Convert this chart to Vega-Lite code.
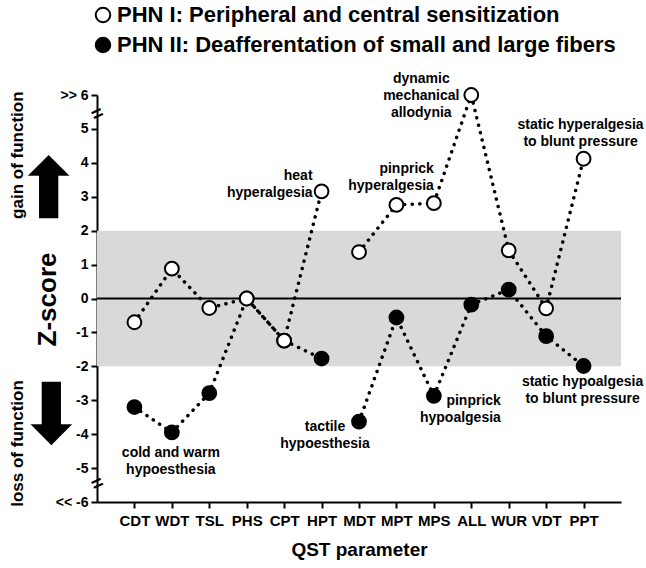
{
  "$schema": "https://vega.github.io/schema/vega-lite/v6.json",
  "width": 524,
  "height": 407,
  "autosize": {"type": "none"},
  "padding": {"left": 97, "top": 95, "right": 25, "bottom": 66},
  "config": {
    "view": {"stroke": null},
    "font": "Liberation Sans",
    "axis": {"grid": false, "labelColor": "black", "titleColor": "black", "labelFont": "Liberation Sans", "titleFont": "Liberation Sans"}
  },
  "datasets": {
    "qst": [
      {"group": "PHN II: Deafferentation of small and large fibers", "seg": "II-a", "param": "CDT", "z": -3.2},
      {"group": "PHN II: Deafferentation of small and large fibers", "seg": "II-a", "param": "WDT", "z": -3.95},
      {"group": "PHN II: Deafferentation of small and large fibers", "seg": "II-a", "param": "TSL", "z": -2.79},
      {"group": "PHN II: Deafferentation of small and large fibers", "seg": "II-a", "param": "PHS", "z": 0.0},
      {"group": "PHN II: Deafferentation of small and large fibers", "seg": "II-a", "param": "CPT", "z": -1.24},
      {"group": "PHN II: Deafferentation of small and large fibers", "seg": "II-a", "param": "HPT", "z": -1.77},
      {"group": "PHN II: Deafferentation of small and large fibers", "seg": "II-b", "param": "MDT", "z": -3.63},
      {"group": "PHN II: Deafferentation of small and large fibers", "seg": "II-b", "param": "MPT", "z": -0.56},
      {"group": "PHN II: Deafferentation of small and large fibers", "seg": "II-b", "param": "MPS", "z": -2.87},
      {"group": "PHN II: Deafferentation of small and large fibers", "seg": "II-b", "param": "ALL", "z": -0.18},
      {"group": "PHN II: Deafferentation of small and large fibers", "seg": "II-b", "param": "WUR", "z": 0.26},
      {"group": "PHN II: Deafferentation of small and large fibers", "seg": "II-b", "param": "VDT", "z": -1.11},
      {"group": "PHN II: Deafferentation of small and large fibers", "seg": "II-b", "param": "PPT", "z": -1.99},
      {"group": "PHN I: Peripheral and central sensitization", "seg": "I-a", "param": "CDT", "z": -0.7},
      {"group": "PHN I: Peripheral and central sensitization", "seg": "I-a", "param": "WDT", "z": 0.88},
      {"group": "PHN I: Peripheral and central sensitization", "seg": "I-a", "param": "TSL", "z": -0.28},
      {"group": "PHN I: Peripheral and central sensitization", "seg": "I-a", "param": "PHS", "z": 0.0},
      {"group": "PHN I: Peripheral and central sensitization", "seg": "I-a", "param": "CPT", "z": -1.24},
      {"group": "PHN I: Peripheral and central sensitization", "seg": "I-a", "param": "HPT", "z": 3.16},
      {"group": "PHN I: Peripheral and central sensitization", "seg": "I-b", "param": "MDT", "z": 1.37},
      {"group": "PHN I: Peripheral and central sensitization", "seg": "I-b", "param": "MPT", "z": 2.76},
      {"group": "PHN I: Peripheral and central sensitization", "seg": "I-b", "param": "MPS", "z": 2.81},
      {"group": "PHN I: Peripheral and central sensitization", "seg": "I-b", "param": "ALL", "z": 6.0},
      {"group": "PHN I: Peripheral and central sensitization", "seg": "I-b", "param": "WUR", "z": 1.42},
      {"group": "PHN I: Peripheral and central sensitization", "seg": "I-b", "param": "VDT", "z": -0.29},
      {"group": "PHN I: Peripheral and central sensitization", "seg": "I-b", "param": "PPT", "z": 4.12}
    ]
  },
  "resolve": {"axis": {"y": "independent"}},
  "layer": [
    {
      "data": {"values": [{"lo": -2, "hi": 2}]},
      "mark": {"type": "rect", "color": "#d9d9d9"},
      "encoding": {
        "y": {"field": "lo", "type": "quantitative", "scale": {"domain": [-6, 6], "nice": false, "zero": false},
          "axis": {"orient": "left", "values": [-6, -5, -4, -3, -2, -1, 0, 1, 2, 3, 4, 5, 6],
            "labelExpr": "datum.value == 6 ? '>> 6' : datum.value == -6 ? '<< -6' : '' + datum.value",
            "labelFontSize": 14, "labelFontWeight": "bold", "labelPadding": 3, "labelOverlap": false, "labelFlush": false, "labelBound": false,
            "tickSize": 6, "tickWidth": 2, "tickColor": "black", "domainColor": "black", "domainWidth": 2,
            "title": "Z-score", "titleFontSize": 26, "titleFontWeight": "bold", "titleX": -50, "titleY": 204,
            "titleAngle": 270, "titleAlign": "center", "titleBaseline": "middle"}},
        "y2": {"field": "hi"}
      }
    },
    {
      "data": {"values": [{"zero": 0}]},
      "mark": {"type": "rule", "color": "black", "strokeWidth": 2},
      "encoding": {
        "y": {"field": "zero", "type": "quantitative", "scale": {"domain": [-6, 6], "nice": false, "zero": false},
          "axis": {"orient": "left", "values": [4.24, -4.26],
            "labelExpr": "datum.value > 0 ? 'gain of function' : 'loss of function'",
            "labelAngle": 270, "labelAlign": "center", "labelBaseline": "middle", "labelPadding": 80,
            "labelFontSize": 17, "labelFontWeight": "bold", "ticks": false, "tickSize": 0, "domain": false,
            "labelOverlap": false, "labelFlush": false, "labelBound": false, "title": null}}
      }
    },
    {
      "data": {"name": "qst"},
      "mark": {"type": "line", "color": "black", "strokeWidth": 3.5, "strokeDash": [0.1, 7.5], "strokeCap": "round"},
      "encoding": {
        "x": {"field": "param", "type": "ordinal", "scale": {"type": "point", "domain": ["CDT", "WDT", "TSL", "PHS", "CPT", "HPT", "MDT", "MPT", "MPS", "ALL", "WUR", "VDT", "PPT"], "padding": 1},
          "axis": {"labelAngle": 0, "labelFontSize": 15, "labelFontWeight": "bold", "labelPadding": 5,
            "tickSize": 6, "tickWidth": 2, "tickColor": "black", "domainColor": "black", "domainWidth": 2,
            "title": "QST parameter", "titleFontSize": 19, "titleFontWeight": "bold", "titlePadding": 12}},
        "y": {"field": "z", "type": "quantitative", "scale": {"domain": [-6, 6], "nice": false, "zero": false},
          "axis": {"orient": "left", "values": [3.28],
            "labelExpr": "'➡'", "labelFont": "DejaVu Sans", "labelAngle": 270,
            "labelAlign": "center", "labelBaseline": "middle", "labelPadding": 48,
            "labelFontSize": 84, "ticks": false, "tickSize": 0, "domain": false,
            "labelOverlap": false, "labelFlush": false, "labelBound": false, "title": null}},
        "detail": {"field": "seg", "type": "nominal"},
        "order": {"value": null}
      }
    },
    {
      "data": {"name": "qst"},
      "mark": {"type": "circle", "size": 190, "stroke": "black", "strokeWidth": 2, "opacity": 1},
      "encoding": {
        "x": {"field": "param", "type": "ordinal", "scale": {"type": "point", "domain": ["CDT", "WDT", "TSL", "PHS", "CPT", "HPT", "MDT", "MPT", "MPS", "ALL", "WUR", "VDT", "PPT"], "padding": 1}},
        "y": {"field": "z", "type": "quantitative", "scale": {"domain": [-6, 6], "nice": false, "zero": false},
          "axis": {"orient": "left", "values": [5.45, -5.45], "labelExpr": "'='",
            "labelAngle": 335, "labelAlign": "center", "labelBaseline": "middle", "labelPadding": 0,
            "labelFontSize": 20, "labelFontWeight": "bold", "ticks": false, "tickSize": 0, "domain": false,
            "labelOverlap": false, "labelFlush": false, "labelBound": false, "title": null}},
        "fill": {"field": "group", "type": "nominal",
          "scale": {"domain": ["PHN I: Peripheral and central sensitization", "PHN II: Deafferentation of small and large fibers"], "range": ["white", "black"]},
          "legend": {"orient": "none", "legendX": -5, "legendY": -91, "title": null, "direction": "vertical",
            "symbolType": "circle", "symbolSize": 210, "symbolStrokeColor": "black", "symbolStrokeWidth": 2, "symbolOpacity": 1,
            "labelFontSize": 22, "labelFontWeight": "bold", "labelColor": "black", "labelLimit": 1000, "labelOffset": 3, "rowPadding": 6, "padding": 0}}
      }
    },
    {
      "data": {"values": [{"param": "HPT", "z": 3.16, "label": "heat\nhyperalgesia"}]},
      "mark": {"type": "text", "align": "right", "baseline": "middle", "dx": -9, "dy": -15, "fontSize": 14, "fontWeight": "bold", "lineBreak": "\n", "lineHeight": 17, "color": "black"},
      "encoding": {
        "x": {"field": "param", "type": "ordinal", "scale": {"type": "point", "domain": ["CDT", "WDT", "TSL", "PHS", "CPT", "HPT", "MDT", "MPT", "MPS", "ALL", "WUR", "VDT", "PPT"], "padding": 1}},
        "y": {"field": "z", "type": "quantitative", "scale": {"domain": [-6, 6], "nice": false, "zero": false},
          "axis": {"orient": "left", "values": [-3.34],
            "labelExpr": "'➡'", "labelFont": "DejaVu Sans", "labelAngle": 90,
            "labelAlign": "center", "labelBaseline": "middle", "labelPadding": 48,
            "labelFontSize": 84, "ticks": false, "tickSize": 0, "domain": false,
            "labelOverlap": false, "labelFlush": false, "labelBound": false, "title": null}},
        "text": {"field": "label"}
      }
    },
    {
      "data": {"values": [{"param": "MPS", "z": 2.81, "label": "pinprick\nhyperalgesia"}]},
      "mark": {"type": "text", "align": "right", "baseline": "middle", "dx": 0, "dy": -34, "fontSize": 14, "fontWeight": "bold", "lineBreak": "\n", "lineHeight": 17, "color": "black"},
      "encoding": {
        "x": {"field": "param", "type": "ordinal", "scale": {"type": "point", "domain": ["CDT", "WDT", "TSL", "PHS", "CPT", "HPT", "MDT", "MPT", "MPS", "ALL", "WUR", "VDT", "PPT"], "padding": 1}},
        "y": {"field": "z", "type": "quantitative", "scale": {"domain": [-6, 6], "nice": false, "zero": false}, "axis": null},
        "text": {"field": "label"}
      }
    },
    {
      "data": {"values": [{"param": "ALL", "z": 6.0, "label": "dynamic\nmechanical\nallodynia"}]},
      "mark": {"type": "text", "align": "center", "baseline": "middle", "dx": -50, "dy": -16, "fontSize": 14, "fontWeight": "bold", "lineBreak": "\n", "lineHeight": 17, "color": "black"},
      "encoding": {
        "x": {"field": "param", "type": "ordinal", "scale": {"type": "point", "domain": ["CDT", "WDT", "TSL", "PHS", "CPT", "HPT", "MDT", "MPT", "MPS", "ALL", "WUR", "VDT", "PPT"], "padding": 1}},
        "y": {"field": "z", "type": "quantitative", "scale": {"domain": [-6, 6], "nice": false, "zero": false}, "axis": null},
        "text": {"field": "label"}
      }
    },
    {
      "data": {"values": [{"param": "PPT", "z": 4.12, "label": "static hyperalgesia\nto blunt pressure"}]},
      "mark": {"type": "text", "align": "center", "baseline": "middle", "dx": -3, "dy": -34, "fontSize": 14, "fontWeight": "bold", "lineBreak": "\n", "lineHeight": 17, "color": "black"},
      "encoding": {
        "x": {"field": "param", "type": "ordinal", "scale": {"type": "point", "domain": ["CDT", "WDT", "TSL", "PHS", "CPT", "HPT", "MDT", "MPT", "MPS", "ALL", "WUR", "VDT", "PPT"], "padding": 1}},
        "y": {"field": "z", "type": "quantitative", "scale": {"domain": [-6, 6], "nice": false, "zero": false}, "axis": null},
        "text": {"field": "label"}
      }
    },
    {
      "data": {"values": [{"param": "PPT", "z": -1.99, "label": "static hypoalgesia\nto blunt pressure"}]},
      "mark": {"type": "text", "align": "center", "baseline": "middle", "dx": -1, "dy": 16, "fontSize": 14, "fontWeight": "bold", "lineBreak": "\n", "lineHeight": 17, "color": "black"},
      "encoding": {
        "x": {"field": "param", "type": "ordinal", "scale": {"type": "point", "domain": ["CDT", "WDT", "TSL", "PHS", "CPT", "HPT", "MDT", "MPT", "MPS", "ALL", "WUR", "VDT", "PPT"], "padding": 1}},
        "y": {"field": "z", "type": "quantitative", "scale": {"domain": [-6, 6], "nice": false, "zero": false}, "axis": null},
        "text": {"field": "label"}
      }
    },
    {
      "data": {"values": [{"param": "WDT", "z": -3.95, "label": "cold and warm\nhypoesthesia"}]},
      "mark": {"type": "text", "align": "center", "baseline": "middle", "dx": -1, "dy": 21, "fontSize": 14, "fontWeight": "bold", "lineBreak": "\n", "lineHeight": 17, "color": "black"},
      "encoding": {
        "x": {"field": "param", "type": "ordinal", "scale": {"type": "point", "domain": ["CDT", "WDT", "TSL", "PHS", "CPT", "HPT", "MDT", "MPT", "MPS", "ALL", "WUR", "VDT", "PPT"], "padding": 1}},
        "y": {"field": "z", "type": "quantitative", "scale": {"domain": [-6, 6], "nice": false, "zero": false}, "axis": null},
        "text": {"field": "label"}
      }
    },
    {
      "data": {"values": [{"param": "MDT", "z": -3.63, "label": "tactile\nhypoesthesia"}]},
      "mark": {"type": "text", "align": "center", "baseline": "middle", "dx": -34, "dy": 5, "fontSize": 14, "fontWeight": "bold", "lineBreak": "\n", "lineHeight": 17, "color": "black"},
      "encoding": {
        "x": {"field": "param", "type": "ordinal", "scale": {"type": "point", "domain": ["CDT", "WDT", "TSL", "PHS", "CPT", "HPT", "MDT", "MPT", "MPS", "ALL", "WUR", "VDT", "PPT"], "padding": 1}},
        "y": {"field": "z", "type": "quantitative", "scale": {"domain": [-6, 6], "nice": false, "zero": false}, "axis": null},
        "text": {"field": "label"}
      }
    },
    {
      "data": {"values": [{"param": "MPS", "z": -2.87, "label": "pinprick\nhypoalgesia"}]},
      "mark": {"type": "text", "align": "right", "baseline": "middle", "dx": 67, "dy": 5, "fontSize": 14, "fontWeight": "bold", "lineBreak": "\n", "lineHeight": 17, "color": "black"},
      "encoding": {
        "x": {"field": "param", "type": "ordinal", "scale": {"type": "point", "domain": ["CDT", "WDT", "TSL", "PHS", "CPT", "HPT", "MDT", "MPT", "MPS", "ALL", "WUR", "VDT", "PPT"], "padding": 1}},
        "y": {"field": "z", "type": "quantitative", "scale": {"domain": [-6, 6], "nice": false, "zero": false}, "axis": null},
        "text": {"field": "label"}
      }
    }
  ]
}
